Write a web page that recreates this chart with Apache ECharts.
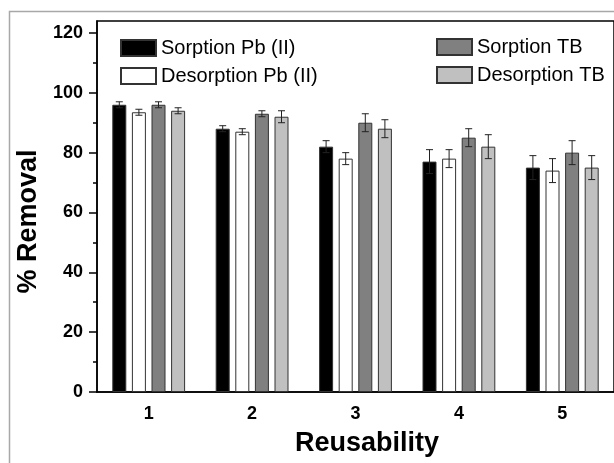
<!DOCTYPE html>
<html>
<head>
<meta charset="utf-8">
<script src="https://cdn.jsdelivr.net/npm/echarts@6/dist/echarts.min.js"></script>
<style>
  html, body { margin: 0; padding: 0; background: #fff; }
  #chart { width: 614px; height: 463px; }
</style>
</head>
<body>
<div id="chart"></div>
<script>
const categories = ['1', '2', '3', '4', '5'];
const sorptionPb = [96, 88, 82, 77, 75];
const desorptionPb = [93.5, 87, 78, 78, 74];
const sorptionTB = [96, 93, 90, 85, 80];
const desorptionTB = [94, 92, 88, 82, 75];
const sorptionPbErr = [1, 1, 2, 4, 4];
const desorptionPbErr = [1, 1, 2, 3, 4];
const sorptionTBErr = [1, 1, 3, 3, 4];
const desorptionTBErr = [1, 2, 3, 4, 4];
const yTicks = [0, 20, 40, 60, 80, 100, 120];
const yMinorTicks = [10, 30, 50, 70, 90, 110];

const names = ['Sorption Pb (II)', 'Desorption Pb (II)', 'Sorption TB', 'Desorption TB'];
const values = [sorptionPb, desorptionPb, sorptionTB, desorptionTB];
const errors = [sorptionPbErr, desorptionPbErr, sorptionTBErr, desorptionTBErr];
const colors = ['#000000', '#ffffff', '#808080', '#c0c0c0'];

const font = 'Liberation Sans, Arial, sans-serif';
const barWidth = 14;
const pitch = 19.6;

// error bar points: [category, value, err, series index]
let errData = [];
values.forEach((vals, s) => {
  vals.forEach((v, i) => errData.push([i, v, errors[s][i], s]));
});

function renderErr(params, api) {
  let c = api.value(0), v = api.value(1), e = api.value(2), s = api.value(3);
  let top = api.coord([c, v + e]);
  let bot = api.coord([c, v - e]);
  let x = top[0] + (s - 1.5) * pitch;
  let hw = 3.5;
  let style = {stroke: '#222', lineWidth: 1};
  return {
    type: 'group',
    children: [
      {type: 'line', shape: {x1: x, y1: top[1], x2: x, y2: bot[1]}, style: style},
      {type: 'line', shape: {x1: x - hw, y1: top[1], x2: x + hw, y2: top[1]}, style: style},
      {type: 'line', shape: {x1: x - hw, y1: bot[1], x2: x + hw, y2: bot[1]}, style: style}
    ]
  };
}

let chart = echarts.init(document.getElementById('chart'));

let barSeries = names.map((n, s) => ({
  name: n,
  type: 'bar',
  data: values[s],
  barWidth: barWidth,
  barGap: '40%',
  itemStyle: {color: colors[s], borderColor: '#333', borderWidth: 1},
  emphasis: {disabled: true}
}));

let legendCommon = {
  orient: 'vertical',
  itemWidth: 35,
  itemHeight: 16,
  itemGap: 8,
  icon: 'rect',
  selectedMode: false,
  textStyle: {fontFamily: font, fontSize: 20, color: '#000'}
};

let option = {
  animation: false,
  backgroundColor: '#fff',
  graphic: [{
    type: 'rect',
    shape: {x: 9.5, y: 11.5, width: 700, height: 700},
    style: {fill: 'none', stroke: '#a8a8a8', lineWidth: 1.5},
    silent: true
  }],
  legend: [
    Object.assign({left: 115, top: 33, data: names.slice(0, 2)}, legendCommon),
    Object.assign({left: 431, top: 32, data: names.slice(2)}, legendCommon)
  ],
  grid: {
    left: 97, top: 21, right: -7, bottom: 71,
    show: true, borderColor: '#000', borderWidth: 1.5
  },
  xAxis: [{
    type: 'category',
    data: categories,
    name: 'Reusability',
    nameLocation: 'middle',
    nameGap: 38,
    nameTextStyle: {fontFamily: font, fontSize: 27, fontWeight: 'bold', color: '#000', padding: [0, 0, 0, 23]},
    axisLine: {lineStyle: {color: '#000', width: 1.5}},
    axisTick: {alignWithLabel: true, length: 7, lineStyle: {color: '#000', width: 1.5}},
    axisLabel: {fontFamily: font, fontSize: 18, fontWeight: 'bold', color: '#000', margin: 13}
  }, {
    type: 'category',
    data: categories,
    position: 'bottom',
    axisLine: {show: false},
    axisTick: {length: 4, lineStyle: {color: '#000', width: 1.5}},
    axisLabel: {show: false}
  }],
  yAxis: [{
    type: 'value',
    min: 0, max: 124, interval: 20,
    name: '% Removal',
    nameLocation: 'middle',
    nameGap: 50,
    nameTextStyle: {fontFamily: font, fontSize: 27, fontWeight: 'bold', color: '#000', padding: [0, 30, 0, 0]},
    axisLine: {show: true, lineStyle: {color: '#000', width: 1.5}},
    axisTick: {show: true, length: 8, customValues: yTicks, lineStyle: {color: '#000', width: 1.5}},
    axisLabel: {fontFamily: font, fontSize: 18, fontWeight: 'bold', color: '#000', margin: 14, customValues: yTicks},
    splitLine: {show: false}
  }, {
    type: 'value',
    position: 'left',
    min: 0, max: 124,
    axisLine: {show: false},
    axisTick: {show: true, length: 4, customValues: yMinorTicks, lineStyle: {color: '#000', width: 1.5}},
    axisLabel: {show: false},
    splitLine: {show: false}
  }],
  series: barSeries.concat([{
    type: 'custom',
    renderItem: renderErr,
    data: errData,
    z: 5,
    silent: true
  }])
};

chart.setOption(option);
</script>
</body>
</html>
